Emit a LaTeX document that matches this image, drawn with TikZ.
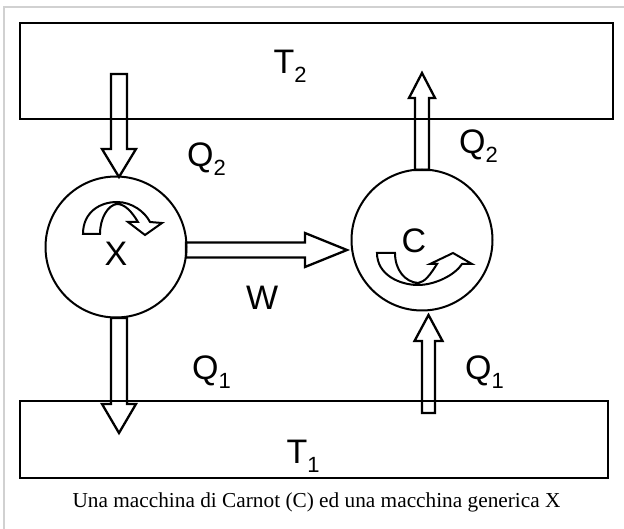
\documentclass[tikz,border=0pt]{standalone}
\usepackage{fontspec}
\setmainfont{Liberation Serif}
\newfontfamily\lsans{Liberation Sans}
\usetikzlibrary{calc}
% block arrow: #1 start, #2 tip, #3 shaft half width, #4 head half width, #5 head length
\newcommand\blockarrow[5]{%
  \coordinate (hb) at ($(#2)!#5!(#1)$);
  \draw[blk] ($(#1)!#3!90:(#2)$) -- ($(hb)!#3!90:(#2)$) -- ($(hb)!#4!90:(#2)$) -- (#2)
     -- ($(hb)!#4!-90:(#2)$) -- ($(hb)!#3!-90:(#2)$) -- ($(#1)!#3!-90:(#2)$) -- cycle;}
\newcommand\lab[3]{\node[lbl] at (#1) {#2\raisebox{-9pt}{\fontsize{22}{22}\selectfont #3}};}
\begin{document}
\begin{tikzpicture}[x=1pt,y=-1pt,
  reservoir/.style={draw, line width=2.7pt, inner sep=0pt},
  engine/.style={circle, draw, line width=2pt, minimum size=141pt, inner sep=0pt},
  blk/.style={draw, line width=2.3pt, line join=miter},
  rot/.style={draw, line width=2pt, line join=miter},
  lbl/.style={font=\lsans\fontsize{34}{34}\selectfont, inner sep=0pt, anchor=base west},
  captext/.style={font=\fontsize{21.3}{21.3}\selectfont, inner sep=0pt, anchor=base}]
\useasboundingbox (0,0) rectangle (624,529);
\draw[black!18, line width=1.5pt] (4,529) -- (4,7) -- (624,7);
% reservoirs
\node[reservoir, minimum width=593pt, minimum height=96pt] (hot) at (316.5,71) {};
\node[reservoir, minimum width=588pt, minimum height=77pt] (cold) at (314,439.5) {};
% engines
\node[engine] (X) at (116,247) {};
\node[engine] (C) at (422,240) {};
% connector end points
\coordinate (q2in) at (119,74);   \coordinate (q2tip) at (119,177);
\coordinate (q1out) at (119,318); \coordinate (q1tip) at (119,433);
\coordinate (wst) at (186,250);   \coordinate (wtip) at (347,250);
\coordinate (q2up) at (422,170);  \coordinate (q2uptip) at (422,73);
\coordinate (q1in) at (428.5,413);\coordinate (q1intip) at (428.5,315);
\blockarrow{q2in}{q2tip}{8pt}{17pt}{28pt}
\blockarrow{q1out}{q1tip}{8pt}{17pt}{29pt}
\blockarrow{wst}{wtip}{7.5pt}{17pt}{42pt}
\blockarrow{q2up}{q2uptip}{7pt}{13pt}{25pt}
\blockarrow{q1in}{q1intip}{6.5pt}{14pt}{26pt}
% rotation arrows
\draw[rot] (83,234) .. controls (83,212) and (100,202) .. (117,202)
  .. controls (132,202) and (145,212) .. (150,222) -- (162,223) -- (145,235)
  -- (128,222) -- (138,222) .. controls (132,212) and (125,204) .. (117,204)
  .. controls (108,205) and (100,218) .. (100,234) -- cycle;
\draw[rot] (377,253) .. controls (377,275) and (400,285) .. (418,285)
  .. controls (435,285) and (455,275) .. (462,264) -- (472,264) -- (453,253)
  -- (430,264) -- (437,264) .. controls (430,275) and (425,282) .. (418,283)
  .. controls (405,282) and (395,270) .. (395,253) -- cycle;
% labels
\lab{273.5,74}{T}{2}
\lab{187,167}{Q}{2}
\lab{459,154}{Q}{2}
\node[lbl] at (104.5,266) {X};
\node[lbl] at (246,310) {W};
\node[lbl] at (401.5,253) {C};
\lab{192,380}{Q}{1}
\lab{465,380}{Q}{1}
\lab{286.5,463}{T}{1}
\node[captext] at (316.5,507) {Una macchina di Carnot (C) ed una macchina generica X};
\end{tikzpicture}
\end{document}
